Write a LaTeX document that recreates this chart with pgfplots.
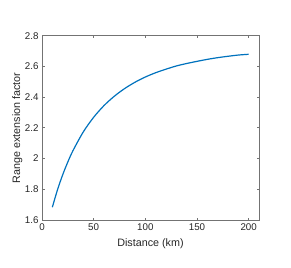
\documentclass[border=0pt]{standalone}
\usepackage{fontspec}
\setmainfont{Liberation Sans}
\usepackage{pgfplots}
\pgfplotsset{compat=1.18}
\definecolor{mblue}{rgb}{0,0.447,0.741}
\definecolor{axgray}{rgb}{0.15,0.15,0.15}
\definecolor{linegray}{rgb}{0.45,0.45,0.45}
\begin{document}
\begin{tikzpicture}
\useasboundingbox (-42bp,-48bp) rectangle (249bp,220bp);
\begin{axis}[
  at={(0,0)}, anchor=south west,
  scale only axis,
  width=217bp, height=184.3bp,
  xmin=0, xmax=210, ymin=1.6, ymax=2.8,
  xtick={0,50,100,150,200},
  ytick={1.6,1.8,2,2.2,2.4,2.6,2.8},
  yticklabels={1.6,1.8,2,2.2,2.4,2.6,2.8},
  xticklabels={0,50,100,150,200},
  tick align=inside,
  major tick length=2.5bp,
  axis line style={linegray, line width=1bp},
  every tick/.style={linegray, line width=0.8bp},
  tick label style={font=\fontsize{9.8}{11}\selectfont, text=axgray},
  label style={font=\fontsize{10.8}{12}\selectfont, text=axgray},
  xlabel={Distance (km)},
  ylabel={Range extension factor},
  xlabel style={at={(axis description cs:0.5,-0.130)}, anchor=center},
  ylabel style={at={(axis description cs:-0.114,0.5)}, anchor=center},
]
\addplot[mblue, line width=1.2bp, smooth] coordinates {
(10,1.683) (15,1.797) (20,1.894) (25,1.978) (30,2.052) (40,2.174)
(50,2.269) (60,2.345) (70,2.406) (80,2.456) (90,2.497) (100,2.531)
(110,2.559) (120,2.582) (130,2.603) (140,2.619) (150,2.633) (160,2.646)
(170,2.657) (180,2.666) (190,2.674) (200,2.679)
};
\end{axis}
\end{tikzpicture}
\end{document}
